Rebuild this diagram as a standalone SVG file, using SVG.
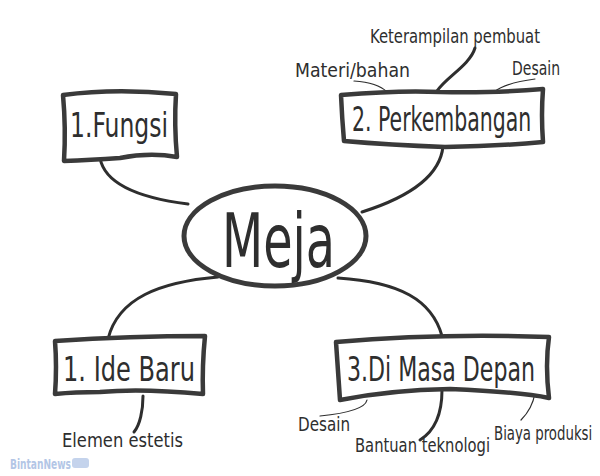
<svg xmlns="http://www.w3.org/2000/svg" width="600" height="476" viewBox="0 0 600 476">
<style>
.box{fill:#fff;stroke:#3a3a3a;stroke-width:4.5;stroke-linejoin:round}
.hw{font-family:"DejaVu Sans Condensed","Liberation Sans",sans-serif;fill:#2e2e2e}
.lbl{font-family:"DejaVu Sans Condensed","Liberation Sans",sans-serif;fill:#2e2e2e;font-size:19px}
.c{fill:none;stroke:#2e2e2e;stroke-width:3;stroke-linecap:round}
.t{fill:none;stroke:#2e2e2e;stroke-width:1.2;stroke-linecap:round}
</style>
<rect width="600" height="476" fill="#fff"/>
<g id="connectors">
<path class="c" d="M100,158 C105,185 140,198 188,204"/>
<path class="c" d="M443,146 C440,180 400,200 362,212"/>
<path class="c" d="M218,277 C160,282 118,298 108,339"/>
<path class="c" d="M338,278 C400,282 432,300 442,336"/>
<path class="c" d="M475,48 C470,65 445,78 437,91" stroke-width="2.2"/>
<path class="t" d="M354,81 C370,82 381,86 387,92"/>
<path class="t" d="M535,79 C512,82 500,87 494,92"/>
<path class="c" d="M143,396 C143,410 140,425 134,432" stroke-width="2.2"/>
<path class="t" d="M367,400 C365,410 340,414 320,416"/>
<path class="c" d="M442,390 C442,412 436,430 420,440" stroke-width="2"/>
<path class="t" d="M535,393 C533,405 528,413 521,420"/>
</g>
<g id="node-meja">
<ellipse cx="275" cy="236" rx="91" ry="50" fill="#fff" stroke="#3a3a3a" stroke-width="5"/>
<text class="hw" x="222" y="267" font-size="74" textLength="113" lengthAdjust="spacingAndGlyphs">Meja</text>
</g>
<g id="node-fungsi">
<path class="box" d="M63,95 Q115,88 176,94 Q174,125 177,157 Q150,152 120,158 Q90,160 64,161 Q66,128 63,95 Z"/>
<text class="hw" x="70" y="137" font-size="33" textLength="98" lengthAdjust="spacingAndGlyphs">1.Fungsi</text>
</g>
<g id="node-perkembangan">
<path class="box" d="M341,95 Q400,90 440,92 Q500,93 543,89 Q541,115 543,142 Q500,146 445,147 Q390,145 344,141 Q342,118 341,95 Z"/>
<text class="hw" transform="translate(352,131) scale(0.69,1)" font-size="33">2. Perkembangan</text>
</g>
<g id="node-idebaru">
<path class="box" d="M55,341 Q130,336 205,336 Q202,366 203,394 Q140,388 100,392 Q75,392 55,394 Q57,367 55,341 Z"/>
<text class="hw" x="63" y="381" font-size="33" textLength="132" lengthAdjust="spacingAndGlyphs">1. Ide Baru</text>
</g>
<g id="node-masadepan">
<path class="box" d="M336,342 Q440,333 549,337 Q545,365 549,398 Q520,392 450,389 Q390,390 340,400 Q338,370 336,342 Z"/>
<text class="hw" x="347" y="381" font-size="33" textLength="188" lengthAdjust="spacingAndGlyphs">3.Di Masa Depan</text>
</g>
<g id="labels">
<text class="lbl" x="370" y="43" textLength="170" lengthAdjust="spacingAndGlyphs">Keterampilan pembuat</text>
<text class="lbl" x="295" y="77" textLength="115" lengthAdjust="spacingAndGlyphs">Materi/bahan</text>
<text class="lbl" x="512" y="75" textLength="48" lengthAdjust="spacingAndGlyphs">Desain</text>
<text class="lbl" x="62" y="447" textLength="121" lengthAdjust="spacingAndGlyphs">Elemen estetis</text>
<text class="lbl" x="298" y="431" textLength="52" lengthAdjust="spacingAndGlyphs">Desain</text>
<text class="lbl" x="355" y="452" textLength="135" lengthAdjust="spacingAndGlyphs">Bantuan teknologi</text>
<text class="lbl" transform="translate(494,440) scale(0.78,1)">Biaya produksi</text>
</g>
<g id="watermark">
<text x="10" y="469" font-family="DejaVu Sans Condensed,Liberation Sans,sans-serif" font-weight="bold" font-size="14" fill="#b3c6e6" textLength="61" lengthAdjust="spacingAndGlyphs">BintanNews</text>
<rect x="72" y="458" width="17" height="10" rx="3" fill="#c4d3ec"/>
</g>
</svg>
